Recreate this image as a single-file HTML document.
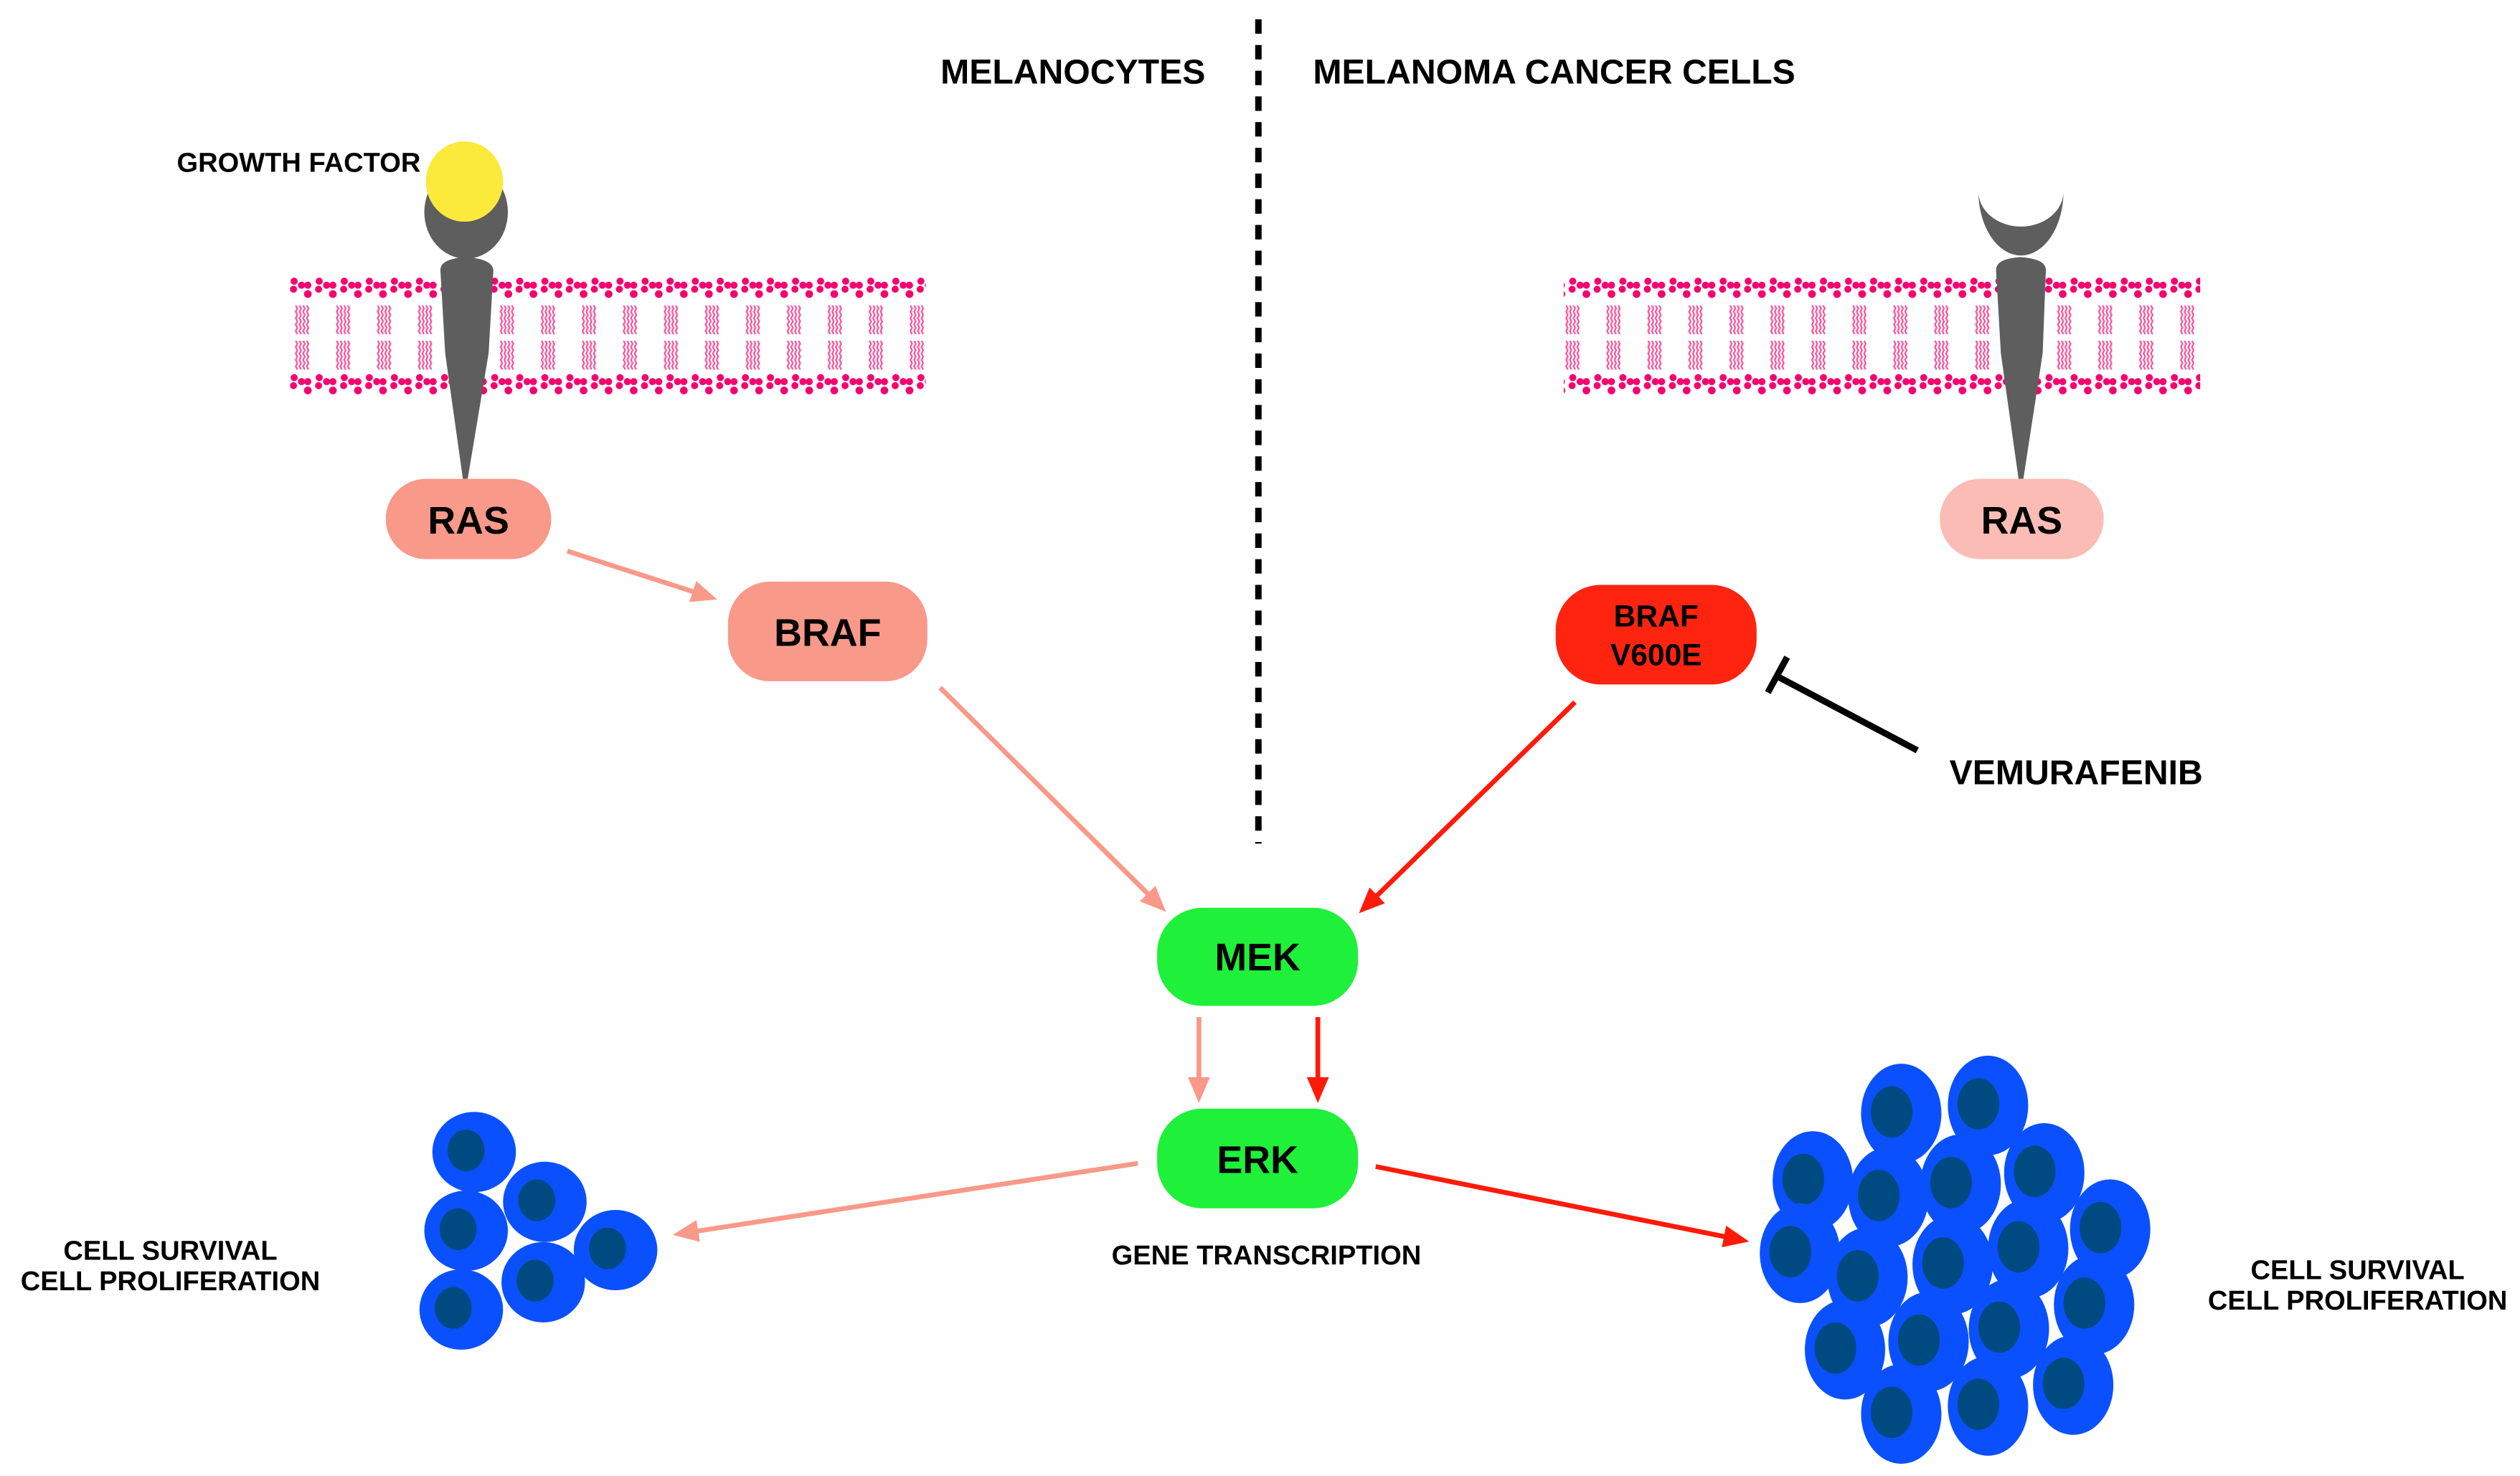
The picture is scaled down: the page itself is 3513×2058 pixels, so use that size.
<!DOCTYPE html>
<html><head><meta charset="utf-8">
<style>
html,body{margin:0;padding:0;background:#fff;}
svg{display:block;}
text{font-family:"Liberation Sans",Arial,sans-serif;font-weight:bold;fill:#000;}
</style></head><body>
<svg width="3513" height="2058" viewBox="0 0 1568 918.6" xmlns="http://www.w3.org/2000/svg">
<defs>
<pattern id="heads" x="180" y="172" width="15.6" height="60" patternUnits="userSpaceOnUse">
<circle cx="3" cy="3" r="2.2" fill="#f5006e"/><circle cx="2.6" cy="8" r="2.2" fill="#f5006e"/>
<circle cx="7.6" cy="5.5" r="2.2" fill="#f5006e"/><circle cx="11.5" cy="5.5" r="2.2" fill="#f5006e"/><circle cx="11.5" cy="11" r="2.4" fill="#f5006e"/>
</pattern>
<pattern id="tails" x="182" y="190" width="25.5" height="22" patternUnits="userSpaceOnUse">
<g stroke="#ff4f9a" stroke-width="1" fill="none">
<path d="M2 0 L3 2 L2 4 L3 6 L2 8 L3 10 L2 12 L3 14 L2 16 L3 18"/>
<path d="M4.3 0 L5.3 2 L4.3 4 L5.3 6 L4.3 8 L5.3 10 L4.3 12 L5.3 14 L4.3 16 L5.3 18"/>
<path d="M6.6 0 L7.6 2 L6.6 4 L7.6 6 L6.6 8 L7.6 10 L6.6 12 L7.6 14 L6.6 16 L7.6 18"/>
<path d="M8.9 0 L9.9 2 L8.9 4 L9.9 6 L8.9 8 L9.9 10 L8.9 12 L9.9 14 L8.9 16 L9.9 18"/>
</g>
</pattern>
<marker id="hs" viewBox="0 0 14 12" markerWidth="16" markerHeight="14" refX="11" refY="6" orient="auto" markerUnits="userSpaceOnUse"><path d="M0,0 L14,6 L0,12 z" fill="#f8998a"/></marker>
<marker id="hr" viewBox="0 0 14 12" markerWidth="16" markerHeight="14" refX="11" refY="6" orient="auto" markerUnits="userSpaceOnUse"><path d="M0,0 L14,6 L0,12 z" fill="#ff1a0a"/></marker>
<g id="cellS"><ellipse cx="0" cy="0" rx="26" ry="25" fill="#0a50ff"/><ellipse cx="-5" cy="-1" rx="11.5" ry="13" fill="#004a82"/></g>
<g id="cellL"><ellipse cx="0" cy="0" rx="25" ry="31" fill="#0a50ff"/><ellipse cx="-6" cy="-1" rx="13" ry="16" fill="#004a82"/></g>
</defs>

<line x1="783" y1="12" x2="783" y2="525" stroke="#000" stroke-width="4" stroke-dasharray="9,7"/>
<text x="750" y="52" font-size="21.5" text-anchor="end">MELANOCYTES</text>
<text x="817" y="52" font-size="21.5">MELANOMA CANCER CELLS</text>

<rect x="180" y="172" width="396" height="15" fill="url(#heads)"/>
<rect x="180" y="190" width="396" height="19" fill="url(#tails)"/>
<rect x="180" y="212" width="396" height="19" fill="url(#tails)"/>
<rect x="180" y="232" width="396" height="15" fill="url(#heads)"/>
<rect x="973" y="172" width="396" height="15" fill="url(#heads)"/>
<rect x="973" y="190" width="396" height="19" fill="url(#tails)"/>
<rect x="973" y="212" width="396" height="19" fill="url(#tails)"/>
<rect x="973" y="232" width="396" height="15" fill="url(#heads)"/>

<ellipse cx="290" cy="132" rx="26" ry="29" fill="#5e5e5e"/>
<path d="M274 168 Q274 161 290 160 Q306 161 307 168 L304 220 L291 298 L288 298 L277 220 Z" fill="#5e5e5e"/>
<ellipse cx="289" cy="113" rx="24" ry="25" fill="#fbe93c"/>
<text x="110" y="107" font-size="17">GROWTH FACTOR</text>

<path d="M1231 119 A26.5 40 0 0 0 1284 119 A26.5 22 0 0 1 1231 119 Z" fill="#5e5e5e"/>
<path d="M1242 168 Q1242 161 1257 160 Q1273 161 1273 168 L1271 220 L1259 298 L1256 298 L1245 220 Z" fill="#5e5e5e"/>

<rect x="240" y="298" width="103" height="50" rx="25" fill="#f8998a"/>
<text x="291.5" y="332" font-size="24" text-anchor="middle">RAS</text>
<rect x="453" y="362" width="124" height="62" rx="26" fill="#f8998a"/>
<text x="515" y="402" font-size="24" text-anchor="middle">BRAF</text>
<rect x="1207" y="298" width="102" height="50" rx="25" fill="#fbbcb6"/>
<text x="1258" y="332" font-size="24" text-anchor="middle">RAS</text>
<rect x="968" y="364" width="125" height="62" rx="28" fill="#ff2410"/>
<text x="1030.5" y="390" font-size="19" text-anchor="middle">BRAF</text>
<text x="1030.5" y="414" font-size="19" text-anchor="middle">V600E</text>
<rect x="720" y="565" width="125" height="61" rx="28" fill="#1ff03a"/>
<text x="782.5" y="604" font-size="24" text-anchor="middle">MEK</text>
<rect x="720" y="690" width="125" height="62" rx="28" fill="#1ff03a"/>
<text x="782.5" y="730" font-size="24" text-anchor="middle">ERK</text>

<g stroke-width="3" fill="none">
<line x1="353" y1="343" x2="443" y2="372" stroke="#f8998a" marker-end="url(#hs)"/>
<line x1="585" y1="428" x2="723" y2="565" stroke="#f8998a" marker-end="url(#hs)"/>
<line x1="980" y1="437" x2="848" y2="566" stroke="#ff1a0a" marker-end="url(#hr)"/>
<line x1="746" y1="633" x2="746" y2="683" stroke="#f8998a" marker-end="url(#hs)"/>
<line x1="820" y1="633" x2="820" y2="683" stroke="#ff1a0a" marker-end="url(#hr)"/>
<line x1="708" y1="724" x2="422" y2="768" stroke="#f8998a" marker-end="url(#hs)"/>
<line x1="856" y1="726" x2="1085" y2="772" stroke="#ff1a0a" marker-end="url(#hr)"/>
</g>
<line x1="1193" y1="467" x2="1106" y2="421" stroke="#000" stroke-width="4"/>
<line x1="1100" y1="431" x2="1112" y2="409" stroke="#000" stroke-width="4"/>
<text x="1213" y="488" font-size="21.5">VEMURAFENIB</text>

<text x="788" y="787" font-size="17" text-anchor="middle">GENE TRANSCRIPTION</text>
<text x="106" y="784" font-size="17" text-anchor="middle">CELL SURVIVAL</text>
<text x="106" y="803" font-size="17" text-anchor="middle">CELL PROLIFERATION</text>
<text x="1467" y="796" font-size="17" text-anchor="middle">CELL SURVIVAL</text>
<text x="1467" y="815" font-size="17" text-anchor="middle">CELL PROLIFERATION</text>

<use href="#cellS" x="295" y="717"/>
<use href="#cellS" x="339" y="748"/>
<use href="#cellS" x="290" y="766"/>
<use href="#cellS" x="383" y="778"/>
<use href="#cellS" x="338" y="798"/>
<use href="#cellS" x="287" y="815"/>

<use href="#cellL" x="1183" y="693"/>
<use href="#cellL" x="1237" y="688"/>
<use href="#cellL" x="1128" y="735"/>
<use href="#cellL" x="1272" y="730"/>
<use href="#cellL" x="1220" y="737"/>
<use href="#cellL" x="1175" y="745"/>
<use href="#cellL" x="1313" y="765"/>
<use href="#cellL" x="1120" y="780"/>
<use href="#cellL" x="1262" y="777"/>
<use href="#cellL" x="1215" y="787"/>
<use href="#cellL" x="1162" y="795"/>
<use href="#cellL" x="1303" y="812"/>
<use href="#cellL" x="1250" y="827"/>
<use href="#cellL" x="1200" y="835"/>
<use href="#cellL" x="1148" y="840"/>
<use href="#cellL" x="1290" y="862"/>
<use href="#cellL" x="1237" y="875"/>
<use href="#cellL" x="1183" y="880"/>
</svg>
</body></html>
